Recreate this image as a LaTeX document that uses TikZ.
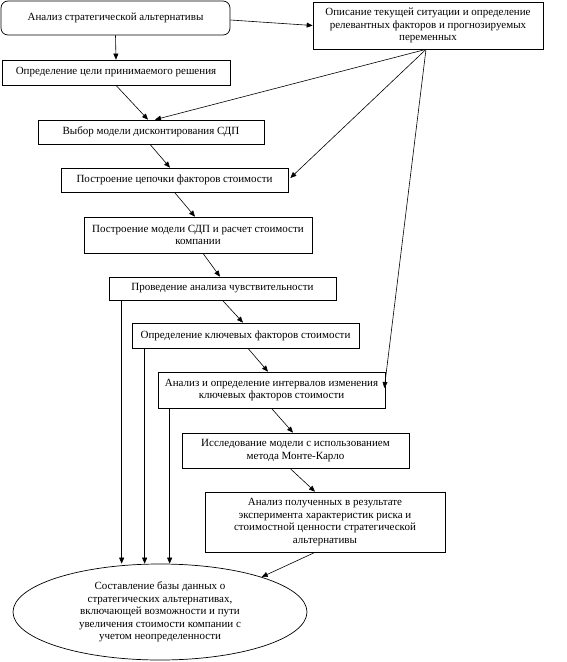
\documentclass[tikz,border=0pt]{standalone}
\usepackage{fontspec}
\setmainfont{Liberation Serif}
\usetikzlibrary{arrows.meta,shapes.geometric,calc}
\newcommand{\dfont}{\fontsize{11}{12.5}\selectfont}
\begin{document}
\begin{tikzpicture}[x=1pt,y=-1pt,
  box/.style={draw, line width=0.7pt, align=center, inner sep=0pt, font=\dfont},
  conn/.style={line width=0.6pt, -{Triangle[length=6pt,width=5pt]}}]
\useasboundingbox (0,0) rectangle (566,662);
\node[box, rounded corners=7pt, minimum width=229pt, minimum height=34pt] (b1) at (115.5,18) {Анализ стратегической альтернативы};
\node[box, minimum width=230pt, minimum height=47pt] (b2) at (428,25.5) {Описание текущей ситуации и определение\\релевантных факторов и прогнозируемых\\переменных};
\node[box, minimum width=228pt, minimum height=25pt] (b3) at (116,72.5) {Определение цели принимаемого решения};
\node[box, minimum width=226pt, minimum height=24pt] (b4) at (151,132) {Выбор модели дисконтирования СДП};
\node[box, minimum width=227pt, minimum height=24pt] (b5) at (174.5,180) {Построение цепочки факторов стоимости};
\node[box, minimum width=228pt, minimum height=36pt] (b6) at (198,235) {Построение модели СДП и расчет стоимости\\компании};
\node[box, minimum width=227pt, minimum height=23pt] (b7) at (222.5,288.5) {Проведение анализа чувствительности};
\node[box, minimum width=227pt, minimum height=25pt] (b8) at (245.5,335.5) {Определение ключевых факторов стоимости};
\node[box, minimum width=227pt, minimum height=36pt] (b9) at (271.5,390) {Анализ и определение интервалов изменения\\ключевых факторов стоимости};
\node[box, minimum width=227pt, minimum height=35pt] (b10) at (295.5,450.5) {Исследование модели с использованием\\метода Монте-Карло};
\node[box, minimum width=240pt, minimum height=60pt] (b11) at (325,522) {Анализ полученных в результате\\эксперимента характеристик риска и\\стоимостной ценности стратегической\\альтернативы};
\node[box, ellipse, minimum width=294pt, minimum height=96pt] (ell) at (160,612) {Составление базы данных о\\стратегических альтернативах,\\включающей возможности и пути\\увеличения стоимости компании с\\учетом неопределенности};
\coordinate (src) at ([xshift=-2pt]b2.south);
\draw[conn] (b1.south) -- (b3.north);
\draw[conn] ([yshift=-2pt]b1.east) -- (b2.west);
\draw[conn] (b3.south) -- ([xshift=-3pt]b4.north);
\draw[conn] (src) -- ([xshift=4pt]b4.north);
\draw[conn] ([xshift=-1pt]b4.south) -- ([xshift=-4.5pt]b5.north);
\draw[conn] (src) -- ([xshift=2pt,yshift=2pt]b5.east);
\draw[conn] (b5.south) -- ([xshift=-3pt]b6.north);
\draw[conn] ([xshift=5pt]b6.south) -- ([xshift=-2.5pt]b7.north);
\draw[conn] (b7.south) -- ([xshift=-2.5pt]b8.north);
\draw[conn] ([xshift=2.5pt]b8.south) -- ([xshift=-3.5pt]b9.north);
\draw[conn] (src) -- ([xshift=-1pt,yshift=2pt]b9.east);
\draw[conn] (b9.south) -- ([xshift=-2.5pt]b10.north);
\draw[conn] ([xshift=-5.5pt]b10.south) -- ([xshift=-10pt]b11.north);
\draw[conn] ([xshift=-10pt]b11.south) -- (ell.19);
\draw[conn] ([xshift=13pt]b7.south west) -- ([xshift=13pt]b7.south west |- ell.north);
\draw[conn] ([xshift=13pt]b8.south west) -- ([xshift=13pt]b8.south west |- ell.north);
\draw[conn] ([xshift=12pt]b9.south west) -- ([xshift=12pt]b9.south west |- ell.north);
\end{tikzpicture}
\end{document}
